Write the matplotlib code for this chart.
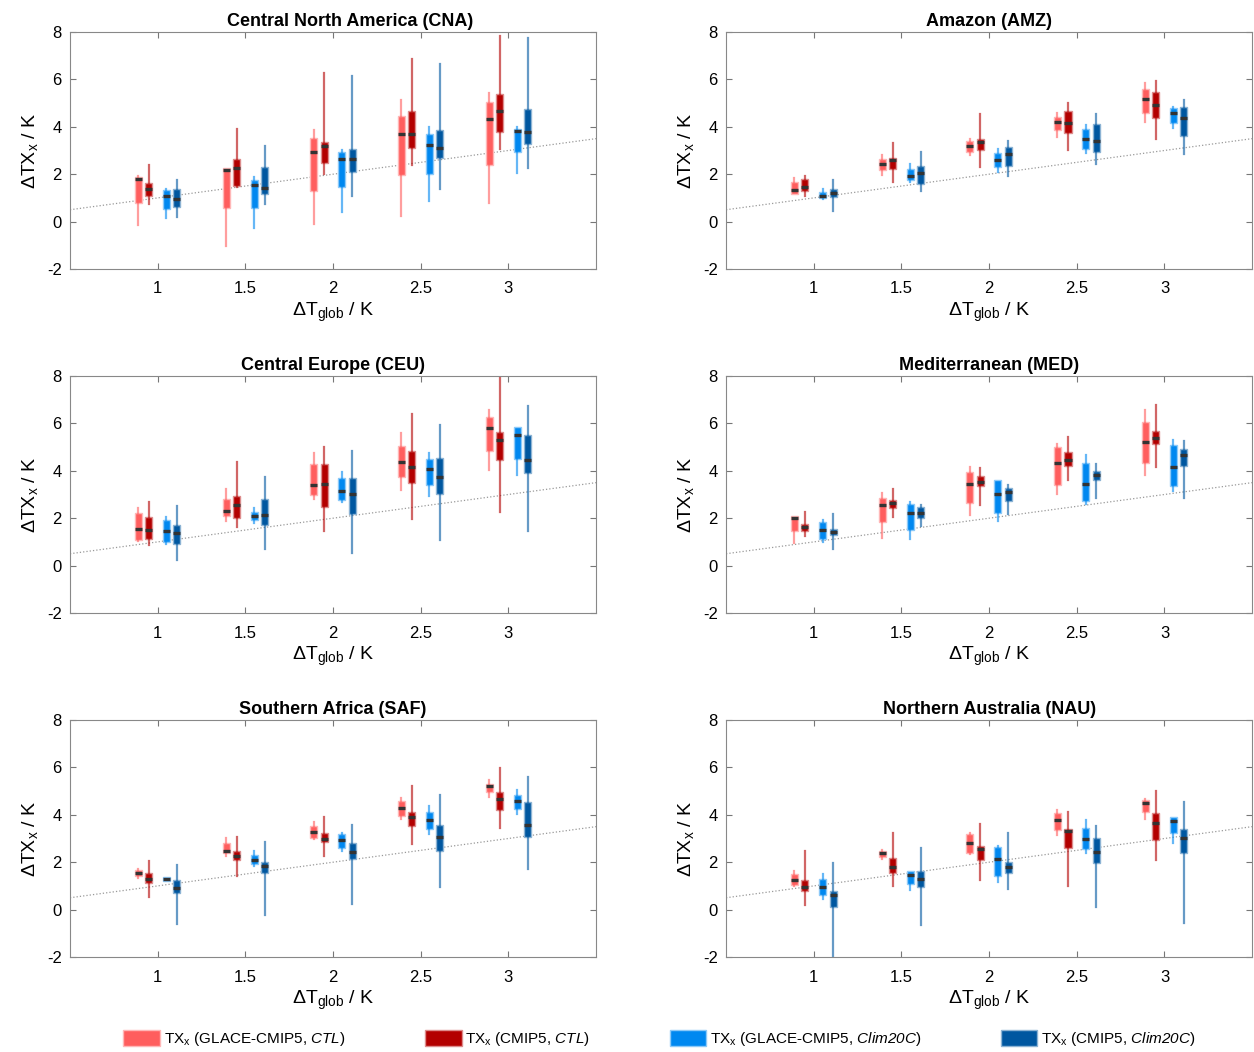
import matplotlib
matplotlib.use('Agg')
import matplotlib.pyplot as plt
from matplotlib.patches import Patch
from matplotlib.colors import to_rgb

plt.rcParams['font.family'] = ['Liberation Sans', 'DejaVu Sans']
plt.rcParams['mathtext.fontset'] = 'custom'
plt.rcParams['mathtext.rm'] = 'Liberation Sans'
plt.rcParams['mathtext.sf'] = 'Liberation Sans:italic'
plt.rcParams['axes.unicode_minus'] = False

# global warming levels (x axis)
levels = [1, 1.5, 2, 2.5, 3]
level_labels = ['1', '1.5', '2', '2.5', '3']

# each row: [whisker low, q1, median, q3, whisker high] per warming level
# gc = GLACE-CMIP5 CTL, cc = CMIP5 CTL, gs = GLACE-CMIP5 Clim20C, cs = CMIP5 Clim20C
cna_gc = [[-0.15, 0.79, 1.79, 1.89, 1.92], [-1.01, 0.56, 2.18, 2.27, 2.28], [-0.11, 1.27, 2.93, 3.54, 3.85],
          [0.25, 1.96, 3.69, 4.44, 5.15], [0.8, 2.39, 4.32, 5.04, 5.42]]
cna_cc = [[0.73, 1.06, 1.37, 1.63, 2.37], [1.44, 1.51, 2.27, 2.63, 3.89], [1.99, 2.49, 3.21, 3.34, 6.28],
          [2.39, 3.1, 3.69, 4.68, 6.86], [3.06, 3.8, 4.65, 5.37, 7.83]]
cna_gs = [[0.15, 0.54, 1.08, 1.32, 1.39], [-0.25, 0.59, 1.54, 1.76, 1.89], [0.41, 1.48, 2.66, 2.92, 3.04],
          [0.87, 2.0, 3.24, 3.68, 3.97], [2.06, 2.92, 3.82, 3.92, 3.97]]
cna_cs = [[0.2, 0.63, 0.96, 1.37, 1.75], [0.73, 1.18, 1.42, 2.3, 3.2], [1.08, 2.1, 2.62, 3.06, 6.14],
          [1.37, 2.69, 3.11, 3.85, 6.63], [2.28, 3.27, 3.76, 4.76, 7.73]]

amz_gc = [[1.17, 1.17, 1.34, 1.66, 1.82], [1.97, 2.18, 2.45, 2.65, 2.8], [2.83, 2.93, 3.17, 3.38, 3.49],
          [3.58, 3.86, 4.2, 4.41, 4.58], [4.2, 4.58, 5.17, 5.61, 5.83]]
amz_cc = [[1.1, 1.31, 1.45, 1.79, 1.94], [1.66, 2.24, 2.59, 2.7, 3.32], [2.31, 3.0, 3.35, 3.49, 4.52],
          [3.0, 3.72, 4.14, 4.65, 5.01], [3.49, 4.39, 4.9, 5.45, 5.94]]
amz_gs = [[0.96, 0.99, 1.08, 1.25, 1.39], [1.68, 1.75, 1.93, 2.2, 2.41], [2.1, 2.31, 2.61, 2.89, 3.08],
          [2.89, 3.08, 3.49, 3.89, 4.07], [3.94, 4.17, 4.58, 4.79, 4.85]]
amz_cs = [[0.46, 1.03, 1.21, 1.39, 1.77], [1.28, 1.59, 2.03, 2.35, 2.94], [1.94, 2.34, 2.85, 3.13, 3.41],
          [2.41, 2.92, 3.38, 4.1, 4.52], [2.86, 3.61, 4.35, 4.82, 5.14]]

ceu_gc = [[1.04, 1.07, 1.56, 2.2, 2.42], [1.9, 2.08, 2.32, 2.8, 3.23], [2.83, 2.96, 3.42, 4.27, 4.75],
          [3.18, 3.72, 4.35, 5.03, 5.59], [4.03, 4.85, 5.8, 6.27, 6.58]]
ceu_cc = [[0.89, 1.11, 1.52, 2.04, 2.7], [1.61, 2.0, 2.55, 2.93, 4.39], [1.46, 2.48, 3.44, 4.27, 5.0],
          [1.96, 3.48, 4.17, 4.83, 6.41], [2.27, 4.46, 5.28, 5.62, 8.1]]
ceu_gs = [[0.92, 1.0, 1.46, 1.94, 2.04], [1.8, 1.94, 2.08, 2.28, 2.44], [2.7, 2.77, 3.15, 3.69, 3.94],
          [2.92, 3.41, 4.07, 4.49, 4.76], [3.82, 4.51, 5.52, 5.85, 5.85]]
ceu_cs = [[0.24, 0.9, 1.38, 1.73, 2.52], [0.68, 1.73, 2.14, 2.8, 3.75], [0.55, 2.18, 3.0, 3.7, 4.85],
          [1.1, 3.03, 3.75, 4.55, 5.92], [1.48, 3.92, 4.46, 5.49, 6.72]]

med_gc = [[0.96, 1.46, 2.01, 2.1, 2.11], [1.18, 1.82, 2.55, 2.85, 3.06], [2.13, 2.62, 3.44, 3.97, 4.18],
          [3.04, 3.42, 4.34, 5.01, 5.15], [3.83, 4.34, 5.21, 6.07, 6.55]]
med_cc = [[1.24, 1.48, 1.63, 1.76, 2.25], [2.07, 2.42, 2.63, 2.76, 3.24], [2.56, 3.34, 3.52, 3.79, 4.1],
          [3.61, 4.2, 4.45, 4.79, 5.42], [4.18, 5.15, 5.37, 5.66, 6.76]]
med_gs = [[1.0, 1.14, 1.52, 1.82, 1.92], [1.13, 1.52, 2.21, 2.58, 2.69], [1.87, 2.2, 3.04, 3.61, 3.63],
          [2.58, 2.72, 3.44, 4.34, 4.65], [3.14, 3.34, 4.18, 5.07, 5.3]]
med_cs = [[0.7, 1.27, 1.42, 1.55, 2.18], [1.68, 1.99, 2.24, 2.46, 2.56], [2.18, 2.72, 3.1, 3.28, 3.42],
          [2.87, 3.63, 3.83, 4.0, 4.3], [2.86, 4.21, 4.66, 4.94, 5.25]]

saf_gc = [[1.34, 1.42, 1.54, 1.65, 1.72], [2.28, 2.38, 2.49, 2.8, 3.04], [2.96, 3.04, 3.27, 3.54, 3.69],
          [3.82, 3.97, 4.3, 4.59, 4.69], [4.76, 4.97, 5.21, 5.32, 5.45]]
saf_cc = [[0.55, 1.13, 1.3, 1.56, 2.06], [1.42, 2.08, 2.25, 2.46, 3.07], [2.28, 2.85, 2.99, 3.23, 3.89],
          [2.77, 3.51, 3.9, 4.1, 5.21], [3.45, 4.2, 4.66, 4.96, 5.96]]
saf_gs = [[1.2, 1.21, 1.3, 1.38, 1.39], [1.85, 1.94, 2.1, 2.32, 2.49], [2.49, 2.62, 2.92, 3.17, 3.23],
          [3.18, 3.39, 3.77, 4.13, 4.35], [4.04, 4.24, 4.58, 4.85, 5.03]]
saf_cs = [[-0.61, 0.72, 0.92, 1.23, 1.87], [-0.24, 1.55, 1.83, 2.01, 2.87], [0.24, 2.14, 2.45, 2.82, 3.59],
          [0.96, 2.46, 3.07, 3.55, 4.83], [1.72, 3.08, 3.58, 4.56, 5.59]]

nau_gc = [[1.01, 1.04, 1.25, 1.51, 1.61], [2.15, 2.24, 2.38, 2.48, 2.52], [2.35, 2.39, 2.79, 3.17, 3.23],
          [3.13, 3.35, 3.76, 4.06, 4.2], [3.82, 4.13, 4.49, 4.61, 4.68]]
nau_cc = [[0.18, 0.77, 0.94, 1.27, 2.49], [1.0, 1.54, 1.8, 2.17, 3.23], [1.23, 2.11, 2.54, 2.7, 3.61],
          [1.01, 2.62, 3.3, 3.41, 4.1], [2.08, 2.92, 3.66, 4.07, 5.0]]
nau_gs = [[0.45, 0.63, 0.97, 1.3, 1.49], [0.83, 1.08, 1.46, 1.61, 1.63], [1.15, 1.41, 2.15, 2.66, 2.7],
          [2.39, 2.55, 2.96, 3.46, 3.77], [2.83, 3.23, 3.73, 3.89, 3.9]]
nau_cs = [[-2.5, 0.11, 0.62, 0.77, 1.97], [-0.65, 0.97, 1.3, 1.61, 2.62], [0.85, 1.56, 1.8, 2.0, 3.25],
          [0.13, 1.97, 2.44, 3.01, 3.52], [-0.55, 2.38, 3.03, 3.41, 4.52]]

titles = ['Central North America (CNA)', 'Amazon (AMZ)', 'Central Europe (CEU)',
          'Mediterranean (MED)', 'Southern Africa (SAF)', 'Northern Australia (NAU)']
title_x = [0.532, 0.5, 0.5, 0.5, 0.5, 0.5]
region_data = [[cna_gc, cna_cc, cna_gs, cna_cs], [amz_gc, amz_cc, amz_gs, amz_cs],
               [ceu_gc, ceu_cc, ceu_gs, ceu_cs], [med_gc, med_cc, med_gs, med_cs],
               [saf_gc, saf_cc, saf_gs, saf_cs], [nau_gc, nau_cc, nau_gs, nau_cs]]

colors = ['#FF5E5E', '#B30000', '#0088F0', '#0057A0']
offsets = [-0.11, -0.05, 0.05, 0.11]
labels = ['TX$_\\mathregular{x}$ (GLACE-CMIP5, $\\mathsf{CTL}$)',
          'TX$_\\mathregular{x}$ (CMIP5, $\\mathsf{CTL}$)',
          'TX$_\\mathregular{x}$ (GLACE-CMIP5, $\\mathsf{Clim20C}$)',
          'TX$_\\mathregular{x}$ (CMIP5, $\\mathsf{Clim20C}$)']


def lighter(c, f=0.5):
    r, g, b = to_rgb(c)
    return (r + (1 - r) * f, g + (1 - g) * f, b + (1 - b) * f)


fig = plt.figure(figsize=(12.54, 10.52), dpi=100)
lefts = [0.0558, 0.579]
bottoms = [0.7443, 0.4173, 0.0903]

for i, (title, series) in enumerate(zip(titles, region_data)):
    ax = fig.add_axes([lefts[i % 2], bottoms[i // 2], 0.4195, 0.2253])
    ax.axline((0, 0), slope=1, color='#999999', linestyle=':', linewidth=0.9, zorder=1)
    for k, rows in enumerate(series):
        stats = [dict(whislo=r[0], q1=r[1], med=r[2], q3=r[3], whishi=r[4]) for r in rows]
        pos = [lv + offsets[k] for lv in levels]
        ax.bxp(stats, positions=pos, widths=0.04, patch_artist=True,
               showcaps=False, showfliers=False, manage_ticks=False,
               boxprops=dict(facecolor=colors[k], edgecolor=lighter(colors[k], 0.55), linewidth=1),
               whiskerprops=dict(color=colors[k], alpha=0.6, linewidth=1.6),
               medianprops=dict(color='#333333', linewidth=2.4, solid_capstyle='butt'))
    ax.set_xlim(0.5, 3.5)
    ax.set_ylim(-2, 8)
    ax.set_xticks(levels)
    ax.set_xticklabels(level_labels)
    ax.set_yticks([-2, 0, 2, 4, 6, 8])
    ax.tick_params(direction='in', top=True, right=True, length=4, labelsize=12,
                   color='#777777', pad=6)
    ax.tick_params(axis='x', pad=9)
    for s in ax.spines.values():
        s.set_color('#888888')
        s.set_linewidth(0.8)
    ax.set_title(title, fontsize=13, fontweight='bold', pad=4, x=title_x[i])
    ax.set_xlabel('ΔT$_\\mathregular{glob}$ / K', fontsize=14, labelpad=3)
    ax.set_ylabel('ΔTX$_\\mathregular{x}$ / K', fontsize=14, labelpad=4)

handles = [Patch(facecolor=c, edgecolor=lighter(c, 0.55)) for c in colors]
fig.legend(handles, labels, loc='center', bbox_to_anchor=(0.526, 0.012), ncol=4,
           frameon=False, fontsize=11, handlelength=2.4, handleheight=1.2,
           handletextpad=0.25, columnspacing=5.2)

fig.savefig('out.png', dpi=100)
